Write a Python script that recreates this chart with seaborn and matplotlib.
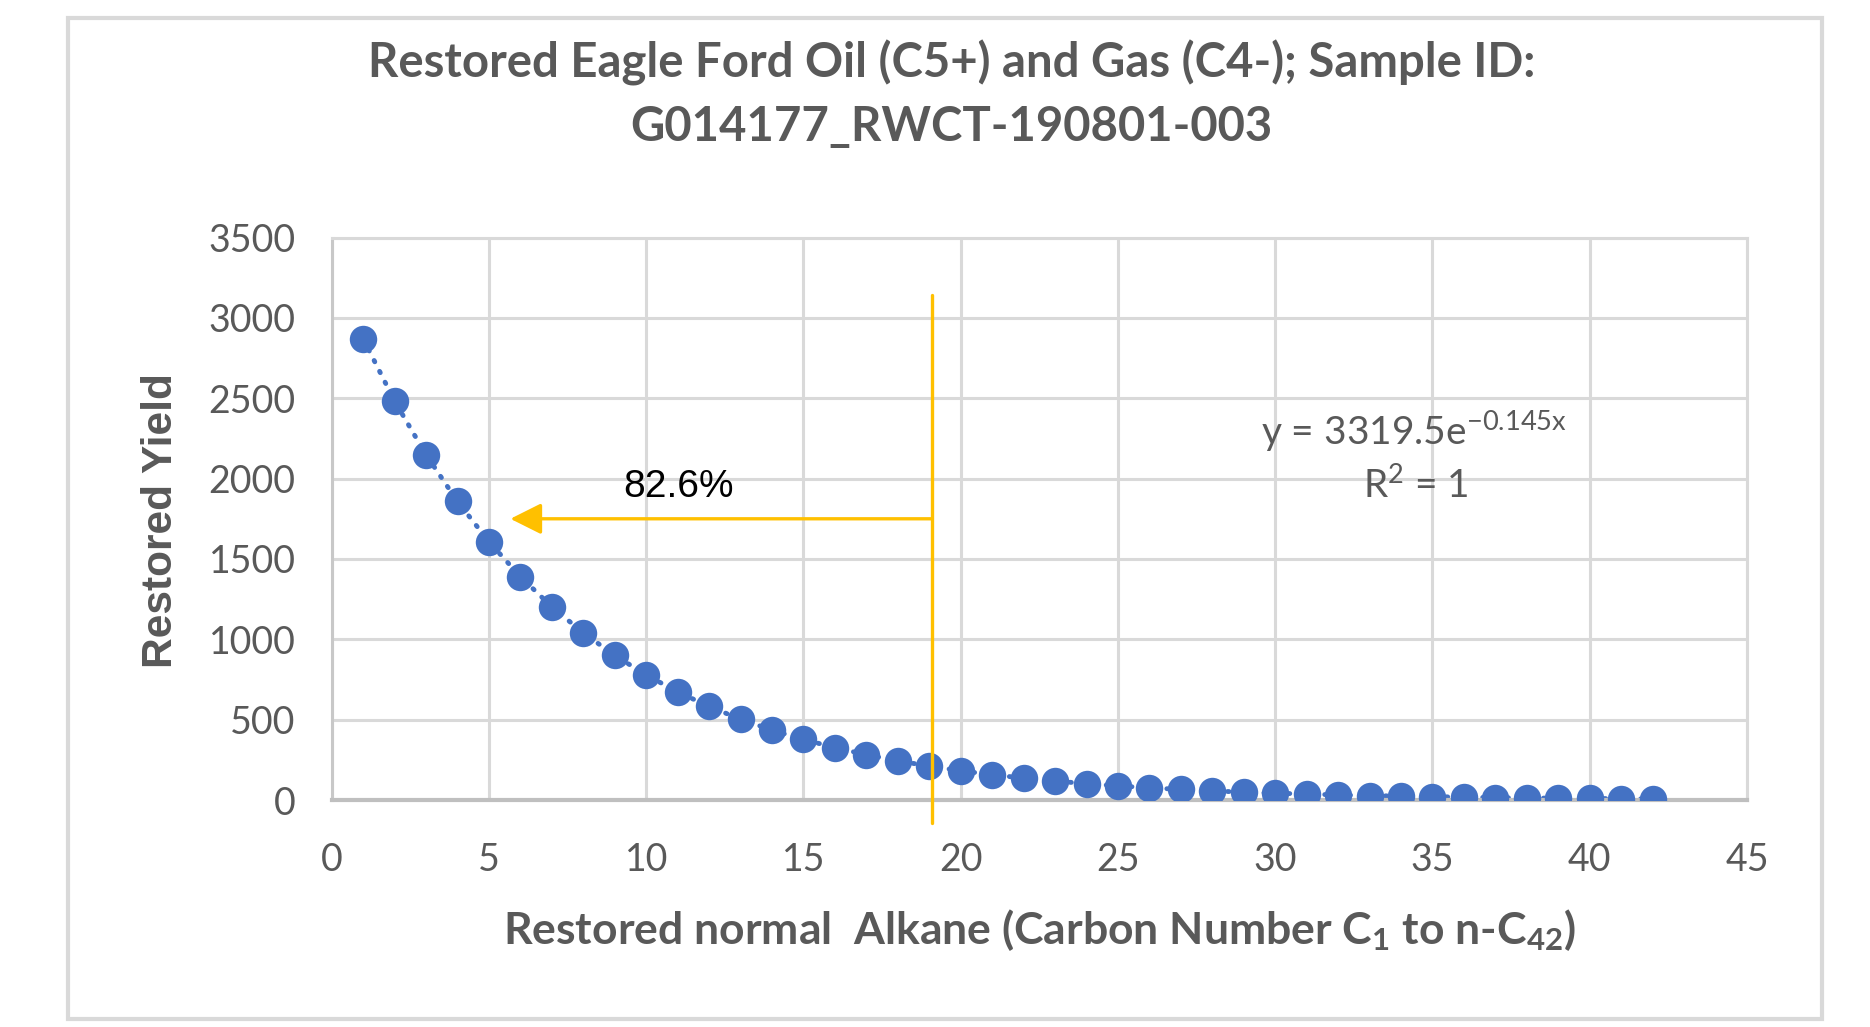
import matplotlib
matplotlib.use('Agg')
import matplotlib.pyplot as plt
import seaborn as sns
import pandas as pd
from matplotlib.patches import Rectangle

# ----------------------------------------------------------------
# Data
# ----------------------------------------------------------------
carbon_number = list(range(1, 43))
restored_yield = [2870, 2482, 2148, 1858, 1607, 1390, 1202, 1040, 900, 778,
                  673, 582, 503, 435, 377, 326, 282, 244, 211, 182,
                  158, 136, 118, 102, 88, 76, 66, 57, 49, 43,
                  37, 32, 28, 24, 21, 18, 15, 13, 11, 10, 8, 7]

x_ticks = [0, 5, 10, 15, 20, 25, 30, 35, 40, 45]
y_ticks = [0, 500, 1000, 1500, 2000, 2500, 3000, 3500]

cutoff_x = 19.1
cutoff_y = [-143, 3145]
arrow_tip_x = 5.68
arrow_y = 1750
cutoff_label = '82.6%'
fit_label = r'y = 3319.5e$^{-0.145\mathrm{x}}$'
r2_label = 'R$^{2}$ = 1'

df = pd.DataFrame({'Carbon Number': carbon_number, 'Restored Yield': restored_yield})

GREY = '#595959'
BLUE = '#4472C4'
ORANGE = '#FFC000'
GRID = '#D9D9D9'

sns.set_theme(style='white')
plt.rcParams['font.family'] = ['Lato', 'DejaVu Sans']
plt.rcParams['mathtext.fontset'] = 'custom'
plt.rcParams['mathtext.rm'] = 'Lato'
plt.rcParams['mathtext.it'] = 'Lato:italic'
plt.rcParams['mathtext.bf'] = 'Lato:bold'
plt.rcParams['mathtext.sf'] = 'Lato'

fig = plt.figure(figsize=(18.7, 10.27), dpi=100)
ax = fig.add_axes([0.1774, 0.2210, 0.7568, 0.5477])

# trendline (dotted) and points
sns.lineplot(x='Carbon Number', y='Restored Yield', data=df, ax=ax, color=BLUE,
             lw=3.5, linestyle=(0, (0.3, 2.2)), dash_capstyle='round', zorder=2)
sns.scatterplot(x='Carbon Number', y='Restored Yield', data=df, ax=ax, color=BLUE,
                s=390, edgecolor=BLUE, linewidth=0, zorder=3)

ax.set_xlim(0, 45)
ax.set_ylim(0, 3500)
ax.set_xticks(x_ticks)
ax.set_yticks(y_ticks)
ax.grid(True, color=GRID, lw=2.2)
ax.set_axisbelow(True)
ax.tick_params(length=0, labelsize=27, labelcolor=GREY)
ax.tick_params(axis='y', pad=26)
ax.tick_params(axis='x', pad=30)
for side in ['top', 'right']:
    ax.spines[side].set_color(GRID)
    ax.spines[side].set_linewidth(2.2)
ax.spines['left'].set_color('#C8C8C8')
ax.spines['left'].set_linewidth(2.2)
ax.spines['bottom'].set_color('#BFBFBF')
ax.spines['bottom'].set_linewidth(3)

# cutoff line and arrow
ax.plot([cutoff_x, cutoff_x], cutoff_y, color=ORANGE, lw=2.4, clip_on=False, zorder=4)
ax.annotate('', xy=(arrow_tip_x, arrow_y), xytext=(cutoff_x, arrow_y),
            arrowprops=dict(arrowstyle='-|>,head_length=0.5,head_width=0.25',
                            color=ORANGE, lw=2.4, mutation_scale=38,
                            shrinkA=0, shrinkB=0), zorder=4)
ax.text(11.03, 1950, cutoff_label, fontsize=28, color='black',
        family=['Liberation Sans', 'DejaVu Sans'], ha='center', va='center')

# fit equation
ax.text(34.4, 2292, fit_label, fontsize=28, color=GREY, ha='center', va='center')
ax.text(34.46, 1958, r2_label, fontsize=28, color=GREY, ha='center', va='center')

# labels
ax.set_xlabel(r'Restored normal  Alkane (Carbon Number C$_{\mathbf{1}}$ to n-C$_{\mathbf{42}}$)',
              fontsize=32, fontweight='bold', color=GREY)
ax.xaxis.set_label_coords(0.5, -0.231)
ax.xaxis.label.set_va('center')
ax.set_ylabel('Restored Yield', fontsize=30.5, fontweight='bold', color=GREY,
              family=['Liberation Sans', 'DejaVu Sans'])
ax.yaxis.set_label_coords(-0.1206, 0.497)
ax.yaxis.label.set_va('center')

# title
fig.text(0.509, 1 - 63 / 1027, 'Restored Eagle Ford Oil (C5+) and Gas (C4-); Sample ID:',
         fontsize=34, fontweight='bold', color=GREY, ha='center', va='center')
fig.text(0.509, 1 - 127 / 1027, 'G014177_RWCT-190801-003',
         fontsize=34, fontweight='bold', color=GREY, ha='center', va='center')

# chart area border
fig.patches.append(Rectangle((68 / 1870, 1 - 1019 / 1027), (1822 - 68) / 1870, (1019 - 18) / 1027,
                             transform=fig.transFigure, fill=False, edgecolor=GRID, lw=3))

fig.savefig('out.png', dpi=100, facecolor='white')
